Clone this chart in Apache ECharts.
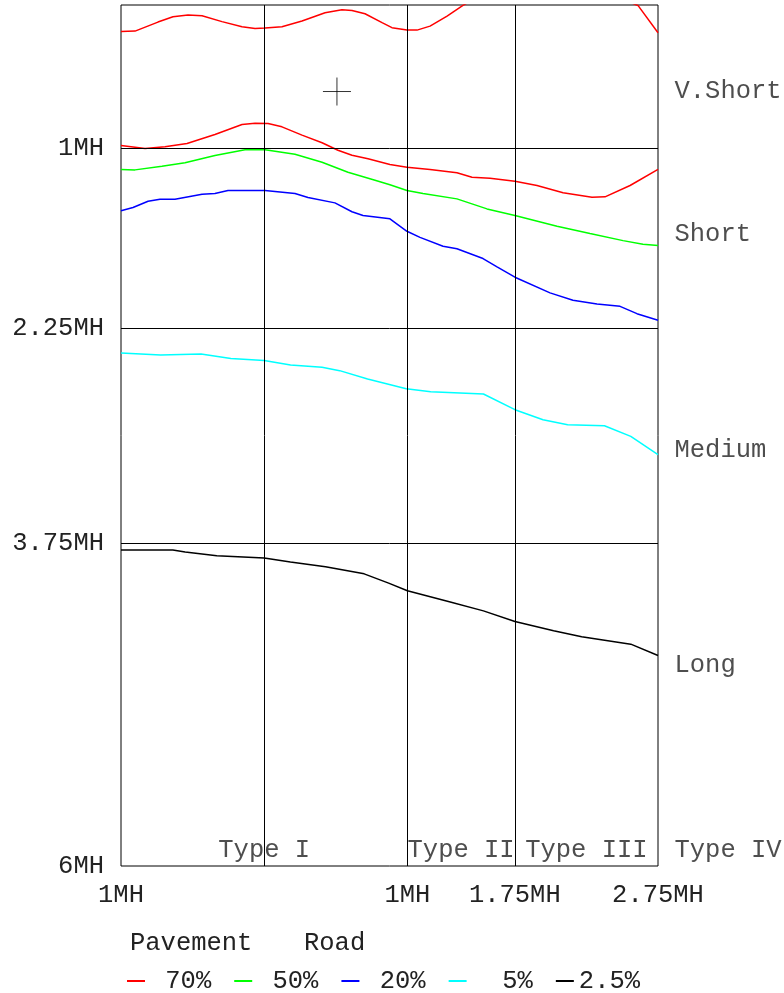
<!DOCTYPE html>
<html>
<head>
<meta charset="utf-8">
<script src="https://cdn.jsdelivr.net/npm/echarts@6/dist/echarts.min.js"></script>
<style>
  html, body { margin: 0; padding: 0; background: #fff; }
  #chart { width: 784px; height: 993px; }
</style>
</head>
<body>
<div id="chart"></div>
<script>
// Tick values and labels
const xTickValues = [-1, 1, 1.75, 2.75];
const xTickLabels = ['1MH', '1MH', '1.75MH', '2.75MH'];
const yTickValues = [1, 2.25, 3.75, 6];
const yTickLabels = ['1MH', '2.25MH', '3.75MH', '6MH'];
const gridX = [0, 1, 1.75];
const gridY = [1, 2.25, 3.75];

// Band labels on the right and type labels at the bottom
const sideLabels = ['V.Short', 'Short', 'Medium', 'Long'];
const sideLabelY = [0.6, 1.6, 3.1, 4.6];
const typeLabels = ['Type I', 'Type II', 'Type III', 'Type IV'];
const typeLabelX = [0, 1.375, 2.25, 2.75];
const typeLabelY = 5.89;
const crossPoint = [0.508, 0.603];

// Series (x, y)
const road70a = [[-1,0.184],[-0.902,0.182],[-0.742,0.119],[-0.637,0.082],[-0.532,0.070],[-0.434,0.075],
  [-0.295,0.116],[-0.155,0.151],[-0.064,0.163],[0.006,0.161],[0.124,0.151],[0.264,0.112],[0.425,0.054],
  [0.543,0.033],[0.613,0.038],[0.704,0.061],[0.823,0.123],[0.892,0.158],[0.997,0.175],[1.067,0.175],
  [1.158,0.147],[1.277,0.077],[1.388,0.003],[1.6,-0.12],[1.9,-0.2],[2.2,-0.15],[2.45,-0.06],[2.61,0.003],[2.75,0.193]];
const road70b = [[-1,0.979],[-0.832,1.000],[-0.693,0.988],[-0.539,0.965],[-0.344,0.902],[-0.155,0.833],
  [-0.064,0.824],[0.027,0.826],[0.124,0.849],[0.264,0.907],[0.404,0.960],[0.515,1.012],[0.613,1.047],
  [0.725,1.072],[0.878,1.112],[0.997,1.130],[1.158,1.146],[1.346,1.169],[1.451,1.200],[1.577,1.207],
  [1.751,1.228],[1.905,1.258],[2.087,1.309],[2.289,1.340],[2.380,1.337],[2.555,1.258],[2.75,1.146]];
const road50 = [[-1,1.146],[-0.902,1.149],[-0.714,1.123],[-0.553,1.100],[-0.344,1.049],[-0.134,1.009],
  [0.006,1.009],[0.215,1.040],[0.404,1.096],[0.585,1.165],[0.774,1.221],[0.878,1.253],[0.997,1.293],
  [1.109,1.314],[1.346,1.351],[1.556,1.421],[1.751,1.467],[2.045,1.542],[2.275,1.593],[2.506,1.642],
  [2.645,1.667],[2.75,1.676]];
const road20 = [[-1,1.434],[-0.916,1.411],[-0.811,1.368],[-0.728,1.354],[-0.623,1.354],[-0.434,1.319],
  [-0.344,1.314],[-0.253,1.293],[0.006,1.293],[0.215,1.314],[0.306,1.342],[0.494,1.379],[0.613,1.441],
  [0.690,1.467],[0.878,1.490],[0.997,1.577],[1.088,1.619],[1.249,1.681],[1.346,1.699],[1.528,1.767],
  [1.626,1.825],[1.751,1.897],[1.996,2.006],[2.156,2.058],[2.324,2.083],[2.485,2.100],[2.603,2.151],[2.75,2.197]];
const road5 = [[-1,2.425],[-0.723,2.439],[-0.441,2.432],[-0.233,2.464],[0,2.478],[0.184,2.508],[0.404,2.525],
  [0.527,2.548],[0.722,2.606],[0.992,2.674],[1.163,2.695],[1.531,2.711],[1.751,2.820],[1.947,2.890],
  [2.119,2.925],[2.376,2.932],[2.560,3.006],[2.75,3.134]];
const road2_5 = [[-1,3.798],[-0.638,3.798],[-0.552,3.812],[-0.331,3.838],[0,3.854],[0.183,3.882],[0.428,3.915],
  [0.698,3.964],[0.869,4.029],[1.0,4.082],[1.286,4.157],[1.531,4.222],[1.751,4.296],[2.021,4.361],
  [2.217,4.403],[2.560,4.454],[2.75,4.533]];

const legendNames = ['70%', '50%', '20%', '5%', '2.5%'];

const FONT = 'Liberation Mono';
const FS = 25.5;
const TEXT_COLOR = '#222';

function lineSeries(name, data, color) {
    return {
        name: name,
        type: 'line',
        data: data,
        showSymbol: false,
        symbol: 'none',
        clip: true,
        lineStyle: { color: color, width: 1.5 },
        itemStyle: { color: color }
    };
}

const titleStyle = { fontFamily: FONT, fontSize: FS, fontWeight: 'normal', color: TEXT_COLOR };

const option = {
    backgroundColor: '#fff',
    animation: false,
    textStyle: { fontFamily: FONT, fontSize: FS, color: TEXT_COLOR },
    title: [
        { text: 'Pavement', left: 130, top: 930, padding: 0, textStyle: titleStyle },
        { text: 'Road', left: 304, top: 930, padding: 0, textStyle: titleStyle }
    ],
    legend: {
        data: legendNames,
        left: 127,
        top: 968,
        padding: 0,
        icon: 'rect',
        itemWidth: 18,
        itemHeight: 2,
        itemGap: 23,
        formatter: function(name) { return name.padStart(4, ' '); },
        textStyle: { fontFamily: FONT, fontSize: FS, color: TEXT_COLOR }
    },
    grid: {
        left: 121,
        right: 126,
        top: 5,
        bottom: 127,
        show: true,
        borderColor: '#000',
        borderWidth: 1,
        backgroundColor: 'transparent'
    },
    xAxis: {
        type: 'value',
        min: -1,
        max: 2.75,
        axisLine: { show: false },
        axisTick: { show: false },
        splitLine: { show: false },
        axisLabel: {
            customValues: xTickValues,
            margin: 16,
            fontFamily: FONT,
            fontSize: FS,
            color: TEXT_COLOR,
            formatter: function(v) {
                const i = xTickValues.indexOf(v);
                return i >= 0 ? xTickLabels[i] : '';
            }
        }
    },
    yAxis: {
        type: 'value',
        inverse: true,
        min: 0,
        max: 6,
        axisLine: { show: false },
        axisTick: { show: false },
        splitLine: { show: false },
        axisLabel: {
            customValues: yTickValues,
            margin: 17,
            fontFamily: FONT,
            fontSize: FS,
            color: TEXT_COLOR,
            formatter: function(v) {
                const i = yTickValues.indexOf(v);
                return i >= 0 ? yTickLabels[i] : '';
            }
        }
    },
    series: [
        {
            type: 'line',
            data: [],
            silent: true,
            markLine: {
                silent: true,
                symbol: 'none',
                animation: false,
                label: { show: false },
                lineStyle: { color: '#000', width: 1, type: 'solid' },
                data: gridX.map(v => ({ xAxis: v })).concat(gridY.map(v => ({ yAxis: v })))
            }
        },
        lineSeries('70%', road70a, '#ff0000'),
        lineSeries('70%', road70b, '#ff0000'),
        lineSeries('50%', road50, '#00ff00'),
        lineSeries('20%', road20, '#0000ff'),
        lineSeries('5%', road5, '#00ffff'),
        lineSeries('2.5%', road2_5, '#000000'),
        {
            type: 'scatter',
            silent: true,
            clip: false,
            symbolSize: 1,
            itemStyle: { color: 'transparent' },
            data: sideLabelY.map((y, i) => ({ value: [2.75, y], name: sideLabels[i] })),
            label: {
                show: true,
                position: 'right',
                distance: 16,
                formatter: '{b}',
                fontFamily: FONT,
                fontSize: FS,
                color: TEXT_COLOR
            }
        },
        {
            type: 'scatter',
            silent: true,
            clip: false,
            symbolSize: 1,
            itemStyle: { color: 'transparent' },
            data: typeLabelX.map((x, i) => ({
                value: [x, typeLabelY],
                name: typeLabels[i],
                label: { position: i === typeLabels.length - 1 ? 'right' : 'inside' }
            })),
            label: {
                show: true,
                distance: 16,
                formatter: '{b}',
                fontFamily: FONT,
                fontSize: FS,
                color: TEXT_COLOR
            }
        },
        {
            type: 'scatter',
            silent: true,
            symbol: 'path://M14,0L14,28M0,14L28,14',
            symbolSize: 28,
            itemStyle: { color: 'transparent', borderColor: '#000', borderWidth: 1 },
            data: [crossPoint]
        }
    ]
};

const chart = echarts.init(document.getElementById('chart'));
chart.setOption(option);
</script>
</body>
</html>
